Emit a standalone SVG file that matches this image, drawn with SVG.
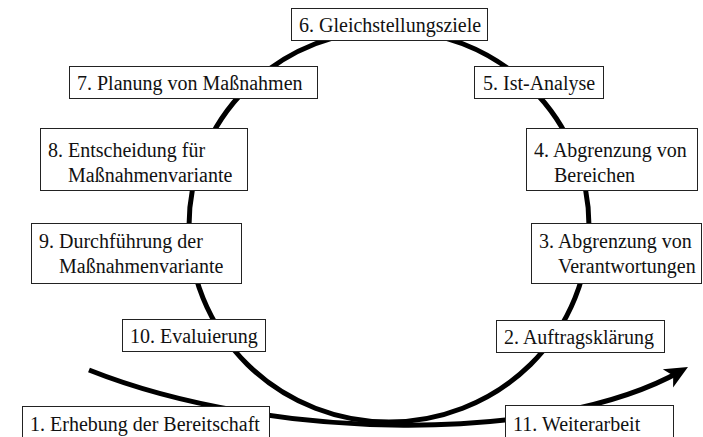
<svg xmlns="http://www.w3.org/2000/svg" width="703" height="437" viewBox="0 0 703 437">
  <style>
    .box rect { fill: #ffffff; stroke: #222222; stroke-width: 1; }
    .box text { font-size: 20px; fill: #111111; }
    .conn { fill: none; stroke: #000000; stroke-width: 5; }
  </style>
  <defs>
    <marker id="arrow" markerUnits="userSpaceOnUse" viewBox="-16 -12 26 24" markerWidth="26" markerHeight="24" refX="0" refY="0" orient="auto">
      <path d="M8,0 L-15,-10.5 L-9,0 L-15,10.5 Z" fill="#000000"/>
    </marker>
  </defs>
  <rect x="0" y="0" width="703" height="437" fill="#ffffff"/>
  <g id="connectors">
    <ellipse class="conn" cx="389" cy="226" rx="200" ry="196"/>
    <path class="conn" d="M89,370 C270,442 550,445 681,371" marker-end="url(#arrow)"/>
  </g>
  <g font-family="Liberation Serif, DejaVu Serif, serif">
  <g id="n6" class="box">
    <rect x="291.5" y="8.5" width="196" height="32"/>
    <text x="299" y="32">6. Gleichstellungsziele</text>
  </g>
  <g id="n7" class="box">
    <rect x="69.5" y="66.5" width="248" height="32"/>
    <text x="77" y="90">7. Planung von Maßnahmen</text>
  </g>
  <g id="n5" class="box">
    <rect x="474.5" y="66.5" width="129" height="32"/>
    <text x="483" y="90">5. Ist-Analyse</text>
  </g>
  <g id="n8" class="box">
    <rect x="40.5" y="128.5" width="207" height="62"/>
    <text x="48" y="157">8. Entscheidung für</text>
    <text x="68" y="182">Maßnahmenvariante</text>
  </g>
  <g id="n4" class="box">
    <rect x="526.5" y="128.5" width="171" height="62"/>
    <text x="534" y="157">4. Abgrenzung von</text>
    <text x="554" y="182">Bereichen</text>
  </g>
  <g id="n9" class="box">
    <rect x="31.5" y="223.5" width="210" height="60"/>
    <text x="39" y="248">9. Durchführung der</text>
    <text x="59" y="273">Maßnahmenvariante</text>
  </g>
  <g id="n3" class="box">
    <rect x="531.5" y="223.5" width="170" height="60"/>
    <text x="539" y="248">3. Abgrenzung von</text>
    <text x="558" y="273">Verantwortungen</text>
  </g>
  <g id="n10" class="box">
    <rect x="122.5" y="319.5" width="143" height="32"/>
    <text x="130" y="343">10. Evaluierung</text>
  </g>
  <g id="n2" class="box">
    <rect x="496.5" y="320.5" width="168" height="32"/>
    <text x="504" y="344">2. Auftragsklärung</text>
  </g>
  <g id="n1" class="box">
    <rect x="22.5" y="406.5" width="247" height="40"/>
    <text x="30" y="431">1. Erhebung der Bereitschaft</text>
  </g>
  <g id="n11" class="box">
    <rect x="505.5" y="405.5" width="168" height="40"/>
    <text x="513" y="431">11. Weiterarbeit</text>
  </g>
  </g>
</svg>
